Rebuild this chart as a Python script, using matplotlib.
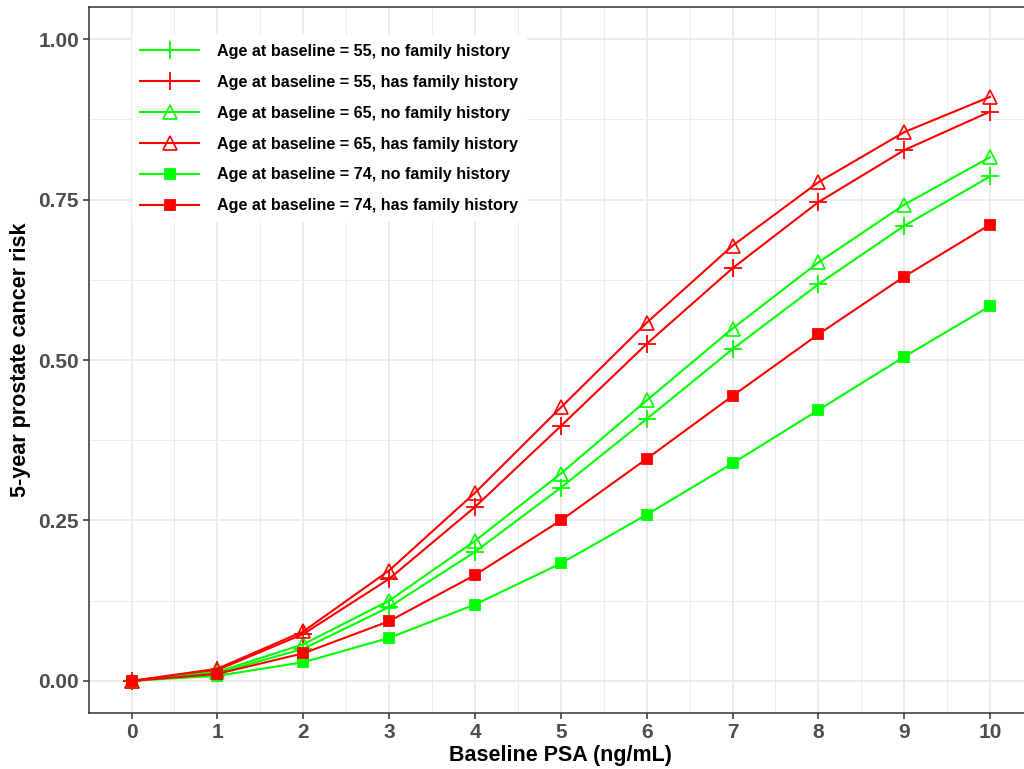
import matplotlib
matplotlib.use("Agg")
import matplotlib.pyplot as plt
import numpy as np
from matplotlib.ticker import MultipleLocator

plt.rcParams['font.family'] = ['Liberation Sans', 'DejaVu Sans']

psa = [0, 1, 2, 3, 4, 5, 6, 7, 8, 9, 10]
r55_no = [0, 0.012, 0.050, 0.115, 0.201, 0.301, 0.408, 0.517, 0.618, 0.709, 0.786]
r55_fh = [0, 0.017, 0.073, 0.159, 0.271, 0.397, 0.525, 0.643, 0.746, 0.827, 0.887]
r65_no = [0, 0.014, 0.057, 0.125, 0.218, 0.323, 0.437, 0.549, 0.652, 0.742, 0.816]
r65_fh = [0, 0.019, 0.077, 0.172, 0.293, 0.426, 0.558, 0.678, 0.777, 0.855, 0.910]
r74_no = [0, 0.008, 0.029, 0.067, 0.119, 0.183, 0.259, 0.339, 0.422, 0.505, 0.584]
r74_fh = [0, 0.011, 0.043, 0.093, 0.165, 0.250, 0.346, 0.444, 0.540, 0.630, 0.711]

labels = ["Age at baseline = 55, no family history",
          "Age at baseline = 55, has family history",
          "Age at baseline = 65, no family history",
          "Age at baseline = 65, has family history",
          "Age at baseline = 74, no family history",
          "Age at baseline = 74, has family history"]
series = [r55_no, r55_fh, r65_no, r65_fh, r74_no, r74_fh]
GREEN = "#00FF00"
RED = "#FF0000"
colors = [GREEN, RED, GREEN, RED, GREEN, RED]
markers = ["+", "+", "^", "^", "s", "s"]
fills = ["full", "full", "none", "none", "full", "full"]
msizes = [13, 13, 9.5, 9.5, 7, 7]

fig = plt.figure(figsize=(10.24, 7.69), dpi=100)
ax = fig.add_axes([88.6 / 1024, 1 - 713 / 769, (1033 - 88.6) / 1024, (713 - 7) / 769])

for ys, c, m, f, ms, lab in zip(series, colors, markers, fills, msizes, labels):
    if f == "none":
        ax.plot(psa, ys, color=c, lw=1.5, marker=m, ms=ms, mfc="none", mec=c, mew=1.2, label=lab)
    else:
        ax.plot(psa, ys, color=c, lw=1.5, marker=m, ms=ms, mfc=c, mec=c, mew=1.3, label=lab)

ax.set_xlim(-0.5, 10.5)
ax.set_ylim(-0.05, 1.05)
ax.set_xticks(psa)
ax.set_yticks([0, 0.25, 0.5, 0.75, 1.0])
ax.set_yticklabels(["0.00", "0.25", "0.50", "0.75", "1.00"])
ax.xaxis.set_minor_locator(MultipleLocator(0.5))
ax.yaxis.set_minor_locator(MultipleLocator(0.125))
ax.grid(which="major", color="#EBEBEB", lw=1.4)
ax.grid(which="minor", color="#EBEBEB", lw=0.7)
ax.set_axisbelow(True)
ax.tick_params(which="minor", length=0)
ax.tick_params(which="major", length=4, width=1.1, color="#333333", labelcolor="#4D4D4D",
               labelsize=15, pad=3)
for lab in ax.get_xticklabels() + ax.get_yticklabels():
    lab.set_fontweight("bold")
for s in ["left", "bottom", "top"]:
    ax.spines[s].set_color("#333333")
    ax.spines[s].set_linewidth(1.1)
ax.spines["right"].set_visible(False)

ax.set_xlabel("Baseline PSA (ng/mL)", fontsize=15.5, fontweight="bold", labelpad=2)
ax.set_ylabel("5-year prostate cancer risk", fontsize=15.5, fontweight="bold", labelpad=5)

leg = ax.legend(loc="upper left", bbox_to_anchor=(0.037, 0.972), fontsize=11.6,
                handlelength=3.65, handletextpad=1.1, labelspacing=0.99,
                frameon=True, fancybox=False, borderpad=0.55)
leg.get_frame().set_edgecolor("none")
leg.get_frame().set_facecolor("white")
leg.get_frame().set_alpha(1)
for t in leg.get_texts():
    t.set_fontweight("bold")
    t.set_color("black")

fig.savefig("out.png", dpi=100)
